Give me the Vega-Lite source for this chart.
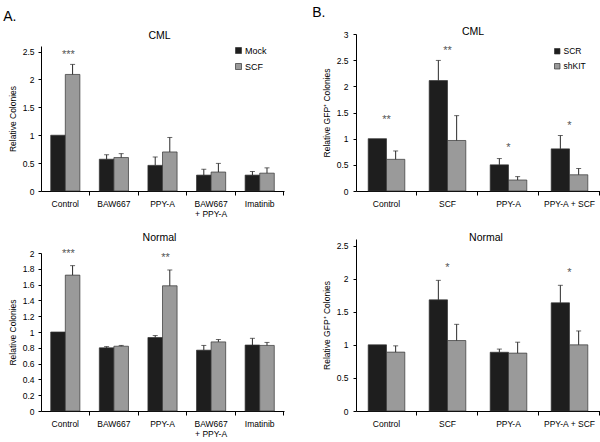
{
  "$schema": "https://vega.github.io/schema/vega-lite/v6.json",
  "padding": {"left": 3, "top": 5, "right": 0, "bottom": 0},
  "background": "white",
  "config": {
    "view": {"stroke": null},
    "font": "Liberation Sans",
    "axis": {"grid": false, "domainColor": "#000", "tickColor": "#000", "labelColor": "#000", "titleColor": "#000", "labelFont": "Liberation Sans", "titleFont": "Liberation Sans", "labelFontSize": 8.5, "titleFontSize": 8.5, "titleFontWeight": "normal", "domainWidth": 1, "tickWidth": 1},
    "axisY": {"labelOverlap": false, "tickCount": 30},
    "title": {"font": "Liberation Sans", "fontWeight": "normal", "color": "#000"},
    "legend": {"labelFont": "Liberation Sans", "labelFontSize": 9, "labelColor": "#000", "symbolType": "square", "symbolSize": 36, "symbolStrokeColor": "#333", "symbolStrokeWidth": 0.7, "rowPadding": 6, "labelOffset": 2, "title": null}
  },
  "datasets": {
    "bars": [
      {"panel": "A1", "cat": "Control", "series": "Mock", "value": 1.0},
      {"panel": "A1", "cat": "Control", "series": "SCF", "value": 2.09, "upper": 2.27},
      {"panel": "A1", "cat": "BAW667", "series": "Mock", "value": 0.57, "upper": 0.65},
      {"panel": "A1", "cat": "BAW667", "series": "SCF", "value": 0.6, "upper": 0.67},
      {"panel": "A1", "cat": "PPY-A", "series": "Mock", "value": 0.46, "upper": 0.61},
      {"panel": "A1", "cat": "PPY-A", "series": "SCF", "value": 0.7, "upper": 0.96},
      {"panel": "A1", "cat": "BAW667 + PPY-A", "series": "Mock", "value": 0.285, "upper": 0.39},
      {"panel": "A1", "cat": "BAW667 + PPY-A", "series": "SCF", "value": 0.34, "upper": 0.495},
      {"panel": "A1", "cat": "Imatinib", "series": "Mock", "value": 0.285, "upper": 0.35},
      {"panel": "A1", "cat": "Imatinib", "series": "SCF", "value": 0.32, "upper": 0.415},
      {"panel": "A2", "cat": "Control", "series": "Mock", "value": 1.0},
      {"panel": "A2", "cat": "Control", "series": "SCF", "value": 1.72, "upper": 1.84},
      {"panel": "A2", "cat": "BAW667", "series": "Mock", "value": 0.8, "upper": 0.815},
      {"panel": "A2", "cat": "BAW667", "series": "SCF", "value": 0.82, "upper": 0.83},
      {"panel": "A2", "cat": "PPY-A", "series": "Mock", "value": 0.93, "upper": 0.955},
      {"panel": "A2", "cat": "PPY-A", "series": "SCF", "value": 1.585, "upper": 1.785},
      {"panel": "A2", "cat": "BAW667 + PPY-A", "series": "Mock", "value": 0.77, "upper": 0.83},
      {"panel": "A2", "cat": "BAW667 + PPY-A", "series": "SCF", "value": 0.875, "upper": 0.905},
      {"panel": "A2", "cat": "Imatinib", "series": "Mock", "value": 0.835, "upper": 0.92},
      {"panel": "A2", "cat": "Imatinib", "series": "SCF", "value": 0.83, "upper": 0.868},
      {"panel": "B1", "cat": "Control", "series": "SCR", "value": 1.0},
      {"panel": "B1", "cat": "Control", "series": "shKIT", "value": 0.605, "upper": 0.765},
      {"panel": "B1", "cat": "SCF", "series": "SCR", "value": 2.11, "upper": 2.495},
      {"panel": "B1", "cat": "SCF", "series": "shKIT", "value": 0.965, "upper": 1.44},
      {"panel": "B1", "cat": "PPY-A", "series": "SCR", "value": 0.5, "upper": 0.62},
      {"panel": "B1", "cat": "PPY-A", "series": "shKIT", "value": 0.21, "upper": 0.275},
      {"panel": "B1", "cat": "PPY-A + SCF", "series": "SCR", "value": 0.805, "upper": 1.06},
      {"panel": "B1", "cat": "PPY-A + SCF", "series": "shKIT", "value": 0.31, "upper": 0.43},
      {"panel": "B2", "cat": "Control", "series": "SCR", "value": 1.0},
      {"panel": "B2", "cat": "Control", "series": "shKIT", "value": 0.89, "upper": 0.985},
      {"panel": "B2", "cat": "SCF", "series": "SCR", "value": 1.68, "upper": 1.975},
      {"panel": "B2", "cat": "SCF", "series": "shKIT", "value": 1.065, "upper": 1.31},
      {"panel": "B2", "cat": "PPY-A", "series": "SCR", "value": 0.888, "upper": 0.936},
      {"panel": "B2", "cat": "PPY-A", "series": "shKIT", "value": 0.875, "upper": 1.04},
      {"panel": "B2", "cat": "PPY-A + SCF", "series": "SCR", "value": 1.635, "upper": 1.9},
      {"panel": "B2", "cat": "PPY-A + SCF", "series": "shKIT", "value": 1.0, "upper": 1.21}
    ],
    "stars": [
      {"panel": "A1", "cat": "Control", "value": 2.42, "label": "***"},
      {"panel": "A2", "cat": "Control", "value": 2.01, "label": "***"},
      {"panel": "A2", "cat": "PPY-A", "value": 1.965, "label": "**"},
      {"panel": "B1", "cat": "Control", "value": 1.37, "label": "**"},
      {"panel": "B1", "cat": "SCF", "value": 2.69, "label": "**"},
      {"panel": "B1", "cat": "PPY-A", "value": 0.84, "label": "*"},
      {"panel": "B1", "cat": "PPY-A + SCF", "value": 1.26, "label": "*"},
      {"panel": "B2", "cat": "SCF", "value": 2.17, "label": "*"},
      {"panel": "B2", "cat": "PPY-A + SCF", "value": 2.1, "label": "*"}
    ]
  },
  "resolve": {"scale": {"color": "independent", "xOffset": "independent"}, "legend": {"color": "independent"}},
  "spacing": 28,
  "hconcat": [
    {
      "title": {"text": "A.", "anchor": "start", "fontSize": 14, "dx": -5, "offset": 7},
      "spacing": 48,
      "bounds": "flush",
      "resolve": {"scale": {"color": "independent", "xOffset": "independent"}, "legend": {"color": "independent"}},
      "vconcat": [
        {
          "width": 243, "height": 157,
          "title": {"text": "CML", "fontSize": 10.5, "offset": -7, "dx": -3},
          "resolve": {"axis": {"x": "independent"}},
          "layer": [
            {
              "data": {"name": "bars"},
              "transform": [{"filter": "datum.panel == 'A1'"}],
              "mark": {"type": "bar", "stroke": "#333", "strokeWidth": 0.7},
              "encoding": {
                "x": {"field": "cat", "type": "nominal", "sort": ["Control", "BAW667", "PPY-A", "BAW667 + PPY-A", "Imatinib"], "scale": {"paddingInner": 0.4, "paddingOuter": 0.2},
                  "axis": {"title": null, "ticks": false, "labelAngle": 0, "labelPadding": 8, "labelOverlap": false, "labelLineHeight": 10, "labelExpr": "datum.value == 'BAW667 + PPY-A' ? ['BAW667', '+ PPY-A'] : datum.label"}},
                "xOffset": {"field": "series", "type": "nominal", "sort": ["Mock", "SCF"]},
                "y": {"field": "value", "type": "quantitative", "scale": {"domain": [0, 2.5], "range": [157, 12]},
                  "axis": {"title": "Relative Colonies", "values": [0, 0.5, 1, 1.5, 2, 2.5], "tickCount": 30, "format": "~g", "tickSize": 3, "labelPadding": 4, "titlePadding": 5, "labelOverlap": false}},
                "color": {"field": "series", "type": "nominal", "scale": {"domain": ["Mock", "SCF"], "range": ["#1e1e1e", "#9a9a9a"]},
                  "legend": {"orient": "none", "legendX": 193, "legendY": 12}}
              }
            },
            {
              "data": {"name": "bars"},
              "transform": [{"filter": "datum.panel == 'A1' && isValid(datum.upper)"}],
              "mark": {"type": "rule", "color": "#2a2a2a", "strokeWidth": 1},
              "encoding": {
                "x": {"field": "cat", "type": "nominal", "sort": ["Control", "BAW667", "PPY-A", "BAW667 + PPY-A", "Imatinib"],
                  "axis": {"orient": "bottom", "title": null, "labels": false, "domain": false, "ticks": true, "tickSize": 4, "bandPosition": 1.3333}},
                "xOffset": {"field": "series", "type": "nominal", "sort": ["Mock", "SCF"]},
                "y": {"field": "value", "type": "quantitative"},
                "y2": {"field": "upper"}
              }
            },
            {
              "data": {"name": "bars"},
              "transform": [{"filter": "datum.panel == 'A1' && isValid(datum.upper)"}],
              "mark": {"type": "tick", "orient": "horizontal", "color": "#2a2a2a", "thickness": 1, "size": 5},
              "encoding": {
                "x": {"field": "cat", "type": "nominal", "sort": ["Control", "BAW667", "PPY-A", "BAW667 + PPY-A", "Imatinib"], "axis": null},
                "xOffset": {"field": "series", "type": "nominal", "sort": ["Mock", "SCF"]},
                "y": {"field": "upper", "type": "quantitative"}
              }
            },
            {
              "data": {"name": "stars"},
              "transform": [{"filter": "datum.panel == 'A1'"}],
              "mark": {"type": "text", "fontSize": 11, "color": "#555", "baseline": "middle", "dy": -1, "dx": 3},
              "encoding": {
                "x": {"field": "cat", "type": "nominal", "sort": ["Control", "BAW667", "PPY-A", "BAW667 + PPY-A", "Imatinib"], "axis": null},
                "y": {"field": "value", "type": "quantitative"},
                "text": {"field": "label"}
              }
            }
          ]
        },
        {
          "width": 243, "height": 172,
          "title": {"text": "Normal", "fontSize": 10.5, "offset": -4, "dx": -3},
          "resolve": {"axis": {"x": "independent"}},
          "layer": [
            {
              "data": {"name": "bars"},
              "transform": [{"filter": "datum.panel == 'A2'"}],
              "mark": {"type": "bar", "stroke": "#333", "strokeWidth": 0.7},
              "encoding": {
                "x": {"field": "cat", "type": "nominal", "sort": ["Control", "BAW667", "PPY-A", "BAW667 + PPY-A", "Imatinib"], "scale": {"paddingInner": 0.4, "paddingOuter": 0.2},
                  "axis": {"title": null, "ticks": false, "labelAngle": 0, "labelPadding": 8, "labelOverlap": false, "labelLineHeight": 10, "labelExpr": "datum.value == 'BAW667 + PPY-A' ? ['BAW667', '+ PPY-A'] : datum.label"}},
                "xOffset": {"field": "series", "type": "nominal", "sort": ["Mock", "SCF"]},
                "y": {"field": "value", "type": "quantitative", "scale": {"domain": [0, 2], "range": [172, 14]},
                  "axis": {"title": "Relative Colonies", "values": [0, 0.2, 0.4, 0.6, 0.8, 1, 1.2, 1.4, 1.6, 1.8, 2], "tickCount": 30, "format": "~g", "tickSize": 3, "labelPadding": 4, "titlePadding": 5, "labelOverlap": false}},
                "color": {"field": "series", "type": "nominal", "scale": {"domain": ["Mock", "SCF"], "range": ["#1e1e1e", "#9a9a9a"]}, "legend": null}
              }
            },
            {
              "data": {"name": "bars"},
              "transform": [{"filter": "datum.panel == 'A2' && isValid(datum.upper)"}],
              "mark": {"type": "rule", "color": "#2a2a2a", "strokeWidth": 1},
              "encoding": {
                "x": {"field": "cat", "type": "nominal", "sort": ["Control", "BAW667", "PPY-A", "BAW667 + PPY-A", "Imatinib"],
                  "axis": {"orient": "bottom", "title": null, "labels": false, "domain": false, "ticks": true, "tickSize": 4, "bandPosition": 1.3333}},
                "xOffset": {"field": "series", "type": "nominal", "sort": ["Mock", "SCF"]},
                "y": {"field": "value", "type": "quantitative"},
                "y2": {"field": "upper"}
              }
            },
            {
              "data": {"name": "bars"},
              "transform": [{"filter": "datum.panel == 'A2' && isValid(datum.upper)"}],
              "mark": {"type": "tick", "orient": "horizontal", "color": "#2a2a2a", "thickness": 1, "size": 5},
              "encoding": {
                "x": {"field": "cat", "type": "nominal", "sort": ["Control", "BAW667", "PPY-A", "BAW667 + PPY-A", "Imatinib"], "axis": null},
                "xOffset": {"field": "series", "type": "nominal", "sort": ["Mock", "SCF"]},
                "y": {"field": "upper", "type": "quantitative"}
              }
            },
            {
              "data": {"name": "stars"},
              "transform": [{"filter": "datum.panel == 'A2'"}],
              "mark": {"type": "text", "fontSize": 11, "color": "#555", "baseline": "middle", "dy": 2, "dx": 3},
              "encoding": {
                "x": {"field": "cat", "type": "nominal", "sort": ["Control", "BAW667", "PPY-A", "BAW667 + PPY-A", "Imatinib"], "axis": null},
                "y": {"field": "value", "type": "quantitative"},
                "text": {"field": "label"}
              }
            }
          ]
        }
      ]
    },
    {
      "title": {"text": "B.", "anchor": "start", "fontSize": 14, "dx": -10, "offset": 7},
      "spacing": 48,
      "bounds": "flush",
      "resolve": {"scale": {"color": "independent", "xOffset": "independent"}, "legend": {"color": "independent"}},
      "vconcat": [
        {
          "width": 244, "height": 157,
          "title": {"text": "CML", "fontSize": 10.5, "offset": -7, "dx": -5},
          "resolve": {"axis": {"x": "independent"}},
          "layer": [
            {
              "data": {"name": "bars"},
              "transform": [{"filter": "datum.panel == 'B1'"}],
              "mark": {"type": "bar", "stroke": "#333", "strokeWidth": 0.7},
              "encoding": {
                "x": {"field": "cat", "type": "nominal", "sort": ["Control", "SCF", "PPY-A", "PPY-A + SCF"], "scale": {"paddingInner": 0.4, "paddingOuter": 0.2},
                  "axis": {"title": null, "ticks": false, "labelAngle": 0, "labelPadding": 8, "labelOverlap": false}},
                "xOffset": {"field": "series", "type": "nominal", "sort": ["SCR", "shKIT"]},
                "y": {"field": "value", "type": "quantitative", "scale": {"domain": [0, 3], "range": [157, 0]},
                  "axis": {"title": "Relative GFP⁺ Colonies", "values": [0, 0.5, 1, 1.5, 2, 2.5, 3], "tickCount": 30, "format": "~g", "tickSize": 3, "labelPadding": 5, "titlePadding": 5, "labelOverlap": false}},
                "color": {"field": "series", "type": "nominal", "scale": {"domain": ["SCR", "shKIT"], "range": ["#1e1e1e", "#9a9a9a"]},
                  "legend": {"orient": "none", "legendX": 197, "legendY": 13, "labelFontSize": 8.5, "symbolSize": 30}}
              }
            },
            {
              "data": {"name": "bars"},
              "transform": [{"filter": "datum.panel == 'B1' && isValid(datum.upper)"}],
              "mark": {"type": "rule", "color": "#2a2a2a", "strokeWidth": 1},
              "encoding": {
                "x": {"field": "cat", "type": "nominal", "sort": ["Control", "SCF", "PPY-A", "PPY-A + SCF"],
                  "axis": {"orient": "bottom", "title": null, "labels": false, "domain": false, "ticks": true, "tickSize": 4, "bandPosition": 1.3333}},
                "xOffset": {"field": "series", "type": "nominal", "sort": ["SCR", "shKIT"]},
                "y": {"field": "value", "type": "quantitative"},
                "y2": {"field": "upper"}
              }
            },
            {
              "data": {"name": "bars"},
              "transform": [{"filter": "datum.panel == 'B1' && isValid(datum.upper)"}],
              "mark": {"type": "tick", "orient": "horizontal", "color": "#2a2a2a", "thickness": 1, "size": 5},
              "encoding": {
                "x": {"field": "cat", "type": "nominal", "sort": ["Control", "SCF", "PPY-A", "PPY-A + SCF"], "axis": null},
                "xOffset": {"field": "series", "type": "nominal", "sort": ["SCR", "shKIT"]},
                "y": {"field": "upper", "type": "quantitative"}
              }
            },
            {
              "data": {"name": "stars"},
              "transform": [{"filter": "datum.panel == 'B1'"}],
              "mark": {"type": "text", "fontSize": 11, "color": "#555", "baseline": "middle", "dy": 1},
              "encoding": {
                "x": {"field": "cat", "type": "nominal", "sort": ["Control", "SCF", "PPY-A", "PPY-A + SCF"], "axis": null},
                "y": {"field": "value", "type": "quantitative"},
                "text": {"field": "label"}
              }
            }
          ]
        },
        {
          "width": 244, "height": 172,
          "title": {"text": "Normal", "fontSize": 10.5, "offset": -4, "dx": 8},
          "resolve": {"axis": {"x": "independent"}},
          "layer": [
            {
              "data": {"name": "bars"},
              "transform": [{"filter": "datum.panel == 'B2'"}],
              "mark": {"type": "bar", "stroke": "#333", "strokeWidth": 0.7},
              "encoding": {
                "x": {"field": "cat", "type": "nominal", "sort": ["Control", "SCF", "PPY-A", "PPY-A + SCF"], "scale": {"paddingInner": 0.4, "paddingOuter": 0.2},
                  "axis": {"title": null, "ticks": false, "labelAngle": 0, "labelPadding": 8, "labelOverlap": false}},
                "xOffset": {"field": "series", "type": "nominal", "sort": ["SCR", "shKIT"]},
                "y": {"field": "value", "type": "quantitative", "scale": {"domain": [0, 2.5], "range": [172, 0]},
                  "axis": {"title": "Relative GFP⁺ Colonies", "values": [0, 0.5, 1, 1.5, 2, 2.5], "tickCount": 30, "format": "~g", "tickSize": 3, "labelPadding": 5, "titlePadding": 5, "labelOverlap": false}},
                "color": {"field": "series", "type": "nominal", "scale": {"domain": ["SCR", "shKIT"], "range": ["#1e1e1e", "#9a9a9a"]}, "legend": null}
              }
            },
            {
              "data": {"name": "bars"},
              "transform": [{"filter": "datum.panel == 'B2' && isValid(datum.upper)"}],
              "mark": {"type": "rule", "color": "#2a2a2a", "strokeWidth": 1},
              "encoding": {
                "x": {"field": "cat", "type": "nominal", "sort": ["Control", "SCF", "PPY-A", "PPY-A + SCF"],
                  "axis": {"orient": "bottom", "title": null, "labels": false, "domain": false, "ticks": true, "tickSize": 4, "bandPosition": 1.3333}},
                "xOffset": {"field": "series", "type": "nominal", "sort": ["SCR", "shKIT"]},
                "y": {"field": "value", "type": "quantitative"},
                "y2": {"field": "upper"}
              }
            },
            {
              "data": {"name": "bars"},
              "transform": [{"filter": "datum.panel == 'B2' && isValid(datum.upper)"}],
              "mark": {"type": "tick", "orient": "horizontal", "color": "#2a2a2a", "thickness": 1, "size": 5},
              "encoding": {
                "x": {"field": "cat", "type": "nominal", "sort": ["Control", "SCF", "PPY-A", "PPY-A + SCF"], "axis": null},
                "xOffset": {"field": "series", "type": "nominal", "sort": ["SCR", "shKIT"]},
                "y": {"field": "upper", "type": "quantitative"}
              }
            },
            {
              "data": {"name": "stars"},
              "transform": [{"filter": "datum.panel == 'B2'"}],
              "mark": {"type": "text", "fontSize": 11, "color": "#555", "baseline": "middle", "dy": 1},
              "encoding": {
                "x": {"field": "cat", "type": "nominal", "sort": ["Control", "SCF", "PPY-A", "PPY-A + SCF"], "axis": null},
                "y": {"field": "value", "type": "quantitative"},
                "text": {"field": "label"}
              }
            }
          ]
        }
      ]
    }
  ]
}
